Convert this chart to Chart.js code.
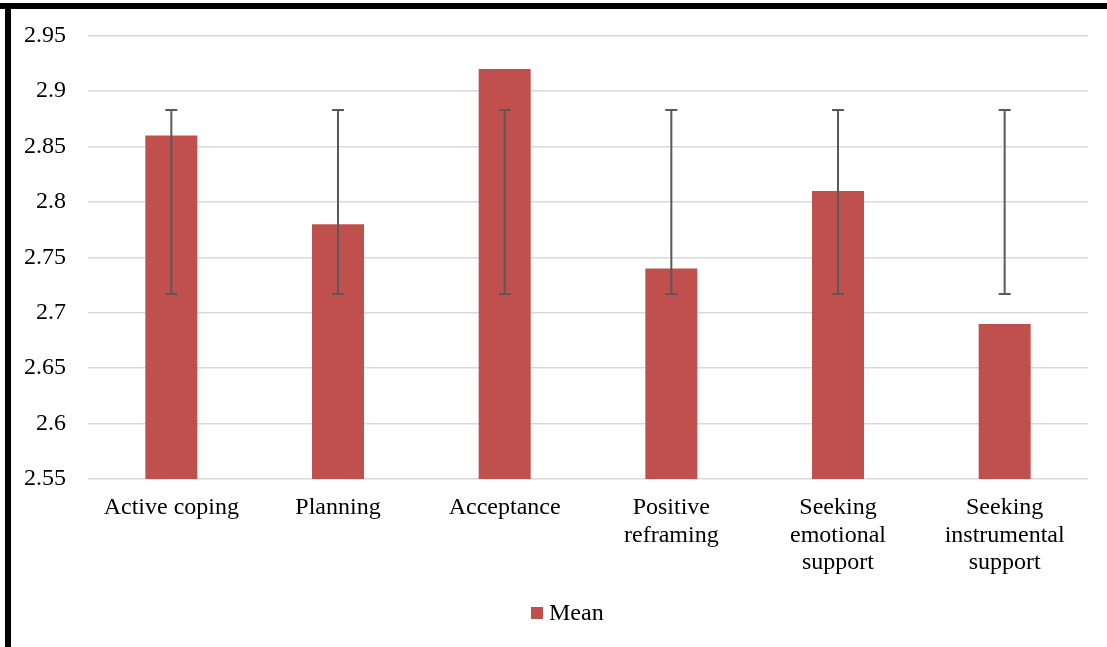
<!DOCTYPE html>
<html>
<head>
<meta charset="utf-8">
<script src="https://cdn.jsdelivr.net/npm/chart.js@4"></script>
<style>
  html, body { margin: 0; padding: 0; background: #fff; }
  #wrap { position: relative; width: 1107px; height: 647px; overflow: hidden; }
  #c { position: absolute; left: 0; top: 0; }
  .bar { position: absolute; background: #000; }
</style>
</head>
<body>
<div id="wrap">
  <canvas id="c" width="1107" height="647"></canvas>
  <div class="bar" style="left:0;top:3px;width:1107px;height:6px;"></div>
  <div class="bar" style="left:5px;top:3px;width:6px;height:644px;"></div>
</div>
<script>
const categories = [
  "Active coping",
  "Planning",
  "Acceptance",
  ["Positive", "reframing"],
  ["Seeking", "emotional", "support"],
  ["Seeking", "instrumental", "support"]
];
const seriesName = "Mean";
const meanValues = [2.86, 2.78, 2.92, 2.74, 2.81, 2.69];
const errLow  = [2.717, 2.717, 2.717, 2.717, 2.717, 2.717];
const errHigh = [2.883, 2.883, 2.883, 2.883, 2.883, 2.883];
const yMin = 2.55, yMax = 2.95, yStep = 0.05;

const font = { family: "'Liberation Serif', 'Times New Roman', serif", size: 24, lineHeight: 1.15 };

const errorBarPlugin = {
  id: 'errorBars',
  afterDatasetsDraw(chart) {
    const ctx = chart.ctx;
    const xs = chart.scales.x, ys = chart.scales.y;
    ctx.save();
    ctx.strokeStyle = '#595959';
    ctx.lineWidth = 2;
    const cap = 6;
    for (let i = 0; i < meanValues.length; i++) {
      const x = xs.getPixelForValue(i);
      const y1 = ys.getPixelForValue(errLow[i]);
      const y2 = ys.getPixelForValue(errHigh[i]);
      ctx.beginPath();
      ctx.moveTo(x, y1); ctx.lineTo(x, y2);
      ctx.moveTo(x - cap, y1); ctx.lineTo(x + cap, y1);
      ctx.moveTo(x - cap, y2); ctx.lineTo(x + cap, y2);
      ctx.stroke();
    }
    ctx.restore();
  }
};

// Legend drawn in the reserved bottom band, from the dataset itself
const legendPlugin = {
  id: 'bottomLegend',
  afterDraw(chart) {
    const ctx = chart.ctx;
    const ds = chart.data.datasets[0];
    const cy = 613;
    const boxX = 531, box = 12, gap = 6;
    ctx.save();
    ctx.fillStyle = ds.backgroundColor;
    ctx.fillRect(boxX, cy - box / 2, box, box);
    ctx.fillStyle = '#000';
    ctx.font = font.size + 'px ' + font.family;
    ctx.textAlign = 'left';
    ctx.textBaseline = 'middle';
    ctx.fillText(ds.label, boxX + box + gap, cy + 1);
    ctx.restore();
  }
};

new Chart(document.getElementById('c'), {
  type: 'bar',
  data: {
    labels: categories,
    datasets: [{
      label: seriesName,
      data: meanValues,
      backgroundColor: '#C0504D',
      borderWidth: 0,
      barPercentage: 0.312,
      categoryPercentage: 1.0
    }]
  },
  options: {
    responsive: false,
    animation: false,
    devicePixelRatio: 1,
    layout: { padding: { left: 0, right: 19, top: 35, bottom: 60 } },
    plugins: {
      legend: { display: false },
      tooltip: { enabled: false }
    },
    scales: {
      x: {
        afterFit(scale) { scale.height = 108; },
        grid: { display: false, drawTicks: false },
        border: { display: false },
        ticks: { font: font, color: '#000', padding: 15, maxRotation: 0, autoSkip: false }
      },
      y: {
        min: yMin,
        max: yMax,
        afterFit(scale) { scale.width = 88; },
        grid: { color: '#d9d9d9', lineWidth: 1.5, drawTicks: false },
        border: { display: false },
        ticks: {
          stepSize: yStep,
          font: font,
          color: '#000',
          padding: 22,
          callback: (v) => String(Number(Number(v).toFixed(2)))
        }
      }
    }
  },
  plugins: [errorBarPlugin, legendPlugin]
});
</script>
</body>
</html>
